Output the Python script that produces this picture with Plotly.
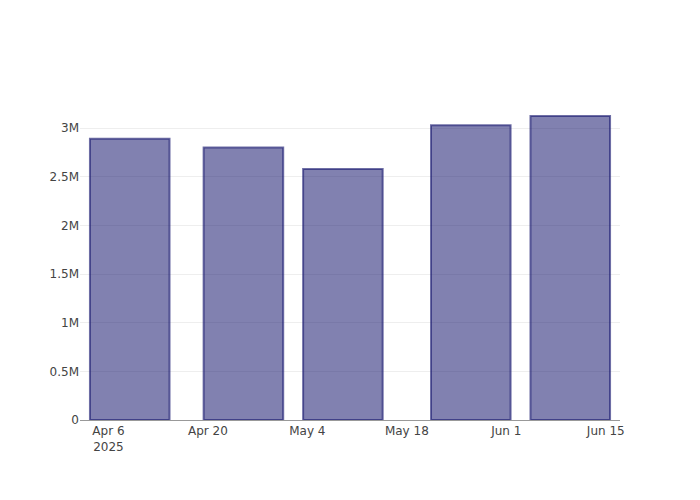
import plotly.graph_objects as go

dates = ["2025-04-09", "2025-04-25", "2025-05-09", "2025-05-27", "2025-06-10"]
values = [2890000, 2800000, 2580000, 3030000, 3125000]
ytick_vals = [0, 500000, 1000000, 1500000, 2000000, 2500000, 3000000]
ytick_text = ["0", "0.5M", "1M", "1.5M", "2M", "2.5M", "3M"]

fig = go.Figure(go.Bar(
    x=dates, y=values,
    marker=dict(color="rgba(25,25,112,0.55)",
                line=dict(color="rgba(25,25,112,0.62)", width=2)),
))
fig.update_layout(
    template="none",
    paper_bgcolor="white", plot_bgcolor="white",
    font=dict(family="DejaVu Sans, sans-serif", size=12, color="#444"),
    margin=dict(l=72, r=72, t=92, b=72),
    showlegend=False,
)
fig.update_xaxes(type="date", showgrid=False, showline=True, linecolor="#999",
                 linewidth=1, ticks="", zeroline=False)
fig.update_yaxes(showgrid=True, gridcolor="#eeeeee", gridwidth=1, showline=False,
                 zeroline=False, ticks="", tickvals=ytick_vals, ticktext=ytick_text)
fig.write_html("out.html")
